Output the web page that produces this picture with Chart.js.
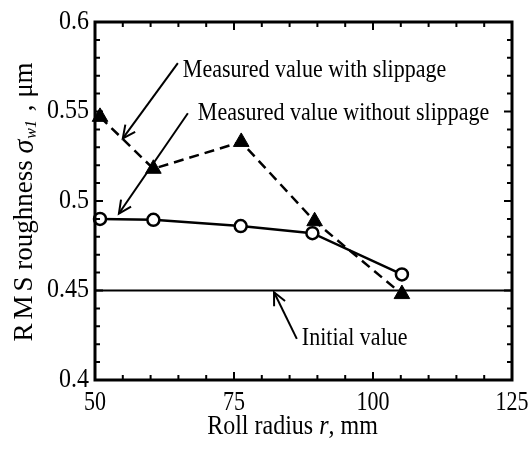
<!DOCTYPE html>
<html>
<head>
<meta charset="utf-8">
<script src="https://cdn.jsdelivr.net/npm/chart.js@4/dist/chart.umd.min.js"></script>
<style>
html,body{margin:0;padding:0;background:#fff;}
#wrap{width:530px;height:450px;}
</style>
</head>
<body>
<div id="wrap"><canvas id="c" width="530" height="450"></canvas></div>
<script>
// ---- data ----
const radiusWithout = [50.9, 60.5, 76.2, 89.1, 105.2];
const roughWithout  = [0.490, 0.4895, 0.486, 0.482, 0.459];
const radiusWith    = [50.9, 60.5, 76.3, 89.5, 105.2];
const roughWith     = [0.547, 0.518, 0.533, 0.4887, 0.448];
const initialRadius = [50, 125];
const initialValue  = 0.45;
const xTickValues = [50, 75, 100, 125];
const xTickLabels = ['50', '75', '100', '125'];
const yTickValues = [0.4, 0.45, 0.5, 0.55, 0.6];
const yTickLabels = ['0.4', '0.45', '0.5', '0.55', '0.6'];
const labelWith    = 'Measured value with slippage';
const labelWithout = 'Measured value without slippage';
const labelInitial = 'Initial value';
// annotation anchors in data units [radius, roughness]
const annWithText    = [65.8, 0.573];
const annWithArrow   = [[64.9, 0.577], [55.0, 0.535]];
const annWithoutText = [68.5, 0.549];
const annWithoutArrow= [[66.7, 0.549], [54.3, 0.493]];
const annInitText    = [87.2, 0.423];
const annInitArrow   = [[86.3, 0.423], [82.2, 0.449]];

const SERIF = '"Liberation Serif", "Times New Roman", serif';
const STRETCH = 1.15;

const toXY = (xs, ys) => xs.map((x, i) => ({x, y: ys[i]}));

const decor = {
  id: 'decor',
  afterDraw(chart) {
    const ctx = chart.ctx;
    const xs = chart.scales.x, ys = chart.scales.y;
    const a = chart.chartArea;
    ctx.save();
    ctx.strokeStyle = '#000';
    // ticks inward on all sides
    ctx.lineWidth = 2;
    for (let v = 50; v <= 125.001; v += 5) {
      const px = xs.getPixelForValue(v);
      const major = Math.abs((v - 50) % 25) < 1e-6;
      const L = major ? 8 : 5;
      ctx.beginPath();
      ctx.moveTo(px, a.bottom); ctx.lineTo(px, a.bottom - L);
      ctx.moveTo(px, a.top); ctx.lineTo(px, a.top + L);
      ctx.stroke();
    }
    for (let i = 0; i <= 20; i++) {
      const v = 0.4 + i * 0.01;
      const py = ys.getPixelForValue(v);
      const L = (i % 5 === 0) ? 8 : 5;
      ctx.beginPath();
      ctx.moveTo(a.left, py); ctx.lineTo(a.left + L, py);
      ctx.moveTo(a.right, py); ctx.lineTo(a.right - L, py);
      ctx.stroke();
    }
    // frame
    ctx.lineWidth = 3;
    ctx.strokeRect(a.left, a.top, a.right - a.left, a.bottom - a.top);

    // arrows
    const arrow = (pts) => {
      const x1 = xs.getPixelForValue(pts[0][0]), y1 = ys.getPixelForValue(pts[0][1]);
      const x2 = xs.getPixelForValue(pts[1][0]), y2 = ys.getPixelForValue(pts[1][1]);
      ctx.lineWidth = 2;
      ctx.beginPath(); ctx.moveTo(x1, y1); ctx.lineTo(x2, y2); ctx.stroke();
      const ang = Math.atan2(y2 - y1, x2 - x1);
      const h = 14, spread = 0.45;
      ctx.beginPath();
      ctx.moveTo(x2 - h * Math.cos(ang - spread), y2 - h * Math.sin(ang - spread));
      ctx.lineTo(x2, y2);
      ctx.lineTo(x2 - h * Math.cos(ang + spread), y2 - h * Math.sin(ang + spread));
      ctx.stroke();
    };
    arrow(annWithArrow);
    arrow(annWithoutArrow);
    arrow(annInitArrow);

    ctx.fillStyle = '#000';
    ctx.textBaseline = 'middle';
    ctx.textAlign = 'left';
    const stretched = (x, y, k, fn) => {
      ctx.save(); ctx.translate(x, y); ctx.scale(1, k); fn(); ctx.restore();
    };

    // tick labels (positions from the library's scales)
    ctx.textAlign = 'center';
    xTickValues.forEach((v, i) => stretched(xs.getPixelForValue(v), a.bottom + 23, 1.25, () => {
      ctx.font = '22px ' + SERIF; ctx.fillText(xTickLabels[i], 0, 0);
    }));
    ctx.textAlign = 'right';
    yTickValues.forEach((v, i) => stretched(a.left - 6, ys.getPixelForValue(v), 1.1, () => {
      ctx.font = '24px ' + SERIF; ctx.fillText(yTickLabels[i], 0, 0);
    }));
    ctx.textAlign = 'left';

    const txt = (s, p) => stretched(xs.getPixelForValue(p[0]), ys.getPixelForValue(p[1]), STRETCH, () => {
      ctx.font = '22px ' + SERIF; ctx.fillText(s, 0, 0);
    });
    txt(labelWith, annWithText);
    txt(labelWithout, annWithoutText);
    txt(labelInitial, annInitText);

    // x axis title with italic r
    const xsegs = [['Roll radius ', '24px ' + SERIF], ['r', 'italic 24px ' + SERIF], [', mm', '24px ' + SERIF]];
    let tw = 0;
    xsegs.forEach(s => { ctx.font = s[1]; tw += ctx.measureText(s[0]).width; });
    stretched((a.left + a.right) / 2 - tw / 2 - 11, 427, STRETCH, () => {
      let cx = 0;
      xsegs.forEach(s => { ctx.font = s[1]; ctx.fillText(s[0], cx, 0); cx += ctx.measureText(s[0]).width; });
    });

    // y axis title, rotated, with subscript
    ctx.save();
    ctx.translate(25, 202);
    ctx.rotate(-Math.PI / 2);
    ctx.scale(1, 1.05);
    const ysegs = [
      {t: 'R', f: '27px ' + SERIF, dy: 0, sp: 4},
      {t: 'M', f: '27px ' + SERIF, dy: 0, sp: 4},
      {t: 'S', f: '27px ' + SERIF, dy: 0, sp: 0},
      {t: ' roughness ', f: '27px ' + SERIF, dy: 0, sp: 0},
      {t: '\u03C3', f: 'italic 28px ' + SERIF, dy: 0, sp: 1},
      {t: 'w1', f: 'italic 16px ' + SERIF, dy: 6, sp: 2},
      {t: ' , \u03BCm', f: '27px ' + SERIF, dy: 0, sp: 0}
    ];
    let w = 0;
    ysegs.forEach(s => { ctx.font = s.f; w += ctx.measureText(s.t).width + s.sp; });
    let px = -w / 2;
    ysegs.forEach(s => { ctx.font = s.f; ctx.fillText(s.t, px, s.dy); px += ctx.measureText(s.t).width + s.sp; });
    ctx.restore();
    ctx.restore();
  }
};

new Chart(document.getElementById('c'), {
  type: 'scatter',
  data: {
    datasets: [
      {
        label: 'Initial value',
        data: initialRadius.map(x => ({x, y: initialValue})),
        showLine: true, borderColor: '#000', borderWidth: 2,
        pointRadius: 0, pointHoverRadius: 0, order: 3
      },
      {
        label: 'Measured value with slippage',
        data: toXY(radiusWith, roughWith),
        showLine: true, borderColor: '#000', borderWidth: 2.5, borderDash: [10, 6],
        pointStyle: 'triangle', pointRadius: 9, pointBackgroundColor: '#000',
        pointBorderColor: '#000', pointBorderWidth: 1, order: 2
      },
      {
        label: 'Measured value without slippage',
        data: toXY(radiusWithout, roughWithout),
        showLine: true, borderColor: '#000', borderWidth: 2.5,
        pointStyle: 'circle', pointRadius: 6, pointBackgroundColor: '#fff',
        pointBorderColor: '#000', pointBorderWidth: 2.5, order: 1
      }
    ]
  },
  options: {
    responsive: false,
    animation: false,
    devicePixelRatio: 1,
    clip: false,
    layout: { padding: { top: 22, right: 18, left: 0, bottom: 0 } },
    plugins: { legend: { display: false }, tooltip: { enabled: false } },
    scales: {
      x: {
        type: 'linear', min: 50, max: 125,
        afterBuildTicks: s => { s.ticks = xTickValues.map(v => ({value: v})); },
        afterFit: s => { s.height = 70; s.paddingRight = 0; s.paddingLeft = 0; },
        grid: { display: false, drawTicks: false }, border: { display: false },
        ticks: { display: false }
      },
      y: {
        type: 'linear', min: 0.4, max: 0.6,
        afterBuildTicks: s => { s.ticks = yTickValues.map(v => ({value: v})); },
        afterFit: s => { s.width = 95; s.paddingTop = 0; s.paddingBottom = 0; },
        grid: { display: false, drawTicks: false }, border: { display: false },
        ticks: { display: false }
      }
    }
  },
  plugins: [decor]
});
</script>
</body>
</html>
